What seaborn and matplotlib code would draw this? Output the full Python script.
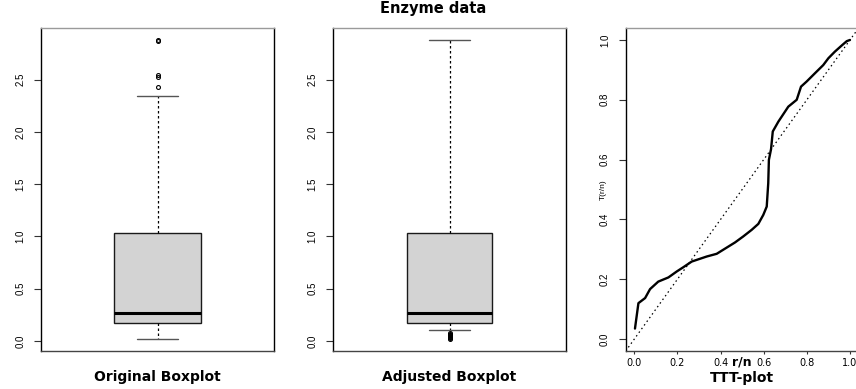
import matplotlib
matplotlib.use("Agg")
import matplotlib.pyplot as plt
import seaborn as sns
import pandas as pd

# ---- data ----
box_titles = ["Original Boxplot", "Adjusted Boxplot"]
box_q1 = [0.17, 0.17]
box_median = [0.265, 0.265]
box_q3 = [1.035, 1.035]
whisker_low = [0.02, 0.105]
whisker_high = [2.34, 2.88]
orig_outliers = [2.43, 2.53, 2.55, 2.87, 2.88]
adj_outliers = [0.02, 0.03, 0.035, 0.04, 0.05, 0.055, 0.06, 0.07, 0.08]
box_yticks = [0.0, 0.5, 1.0, 1.5, 2.0, 2.5]
box_yticklabels = ["0.0", "0.5", "1.0", "1.5", "2.0", "2.5"]

ttt_x = [0.003, 0.019, 0.05, 0.073, 0.111, 0.158, 0.197, 0.227, 0.266, 0.336,
         0.382, 0.42, 0.467, 0.505, 0.544, 0.575, 0.598, 0.614, 0.621, 0.624,
         0.634, 0.642, 0.668, 0.714, 0.753, 0.773, 0.799, 0.838, 0.876, 0.90,
         0.93, 0.961, 0.985, 1.0]
ttt_y = [0.035, 0.120, 0.137, 0.167, 0.192, 0.206, 0.226, 0.240, 0.259, 0.276,
         0.285, 0.302, 0.323, 0.343, 0.365, 0.385, 0.415, 0.443, 0.521, 0.599,
         0.635, 0.694, 0.727, 0.777, 0.800, 0.844, 0.861, 0.889, 0.916, 0.939,
         0.961, 0.981, 0.996, 1.0]
ttt_ticks = [0.0, 0.2, 0.4, 0.6, 0.8, 1.0]
ttt_ticklabels = ["0.0", "0.2", "0.4", "0.6", "0.8", "1.0"]

title = "Enzyme data"

# ---- style ----
sns.set_style("white")
plt.rcParams["font.family"] = ["DejaVu Sans"]
plt.rcParams["text.color"] = "black"
plt.rcParams["axes.labelcolor"] = "black"
plt.rcParams["xtick.color"] = "black"
plt.rcParams["ytick.color"] = "black"

W, H = 856, 389
fig = plt.figure(figsize=(W / 100, H / 100), dpi=100)

def rect(left, right, top=28, bottom=351):
    return [left / W, (H - bottom) / H, (right - left) / W, (bottom - top) / H]

ax1 = fig.add_axes(rect(41, 274))
ax2 = fig.add_axes(rect(333.3, 565.7))
ax3 = fig.add_axes(rect(625.7, 858.6))

def style_spines(ax):
    for side, c in [("left", "black"), ("right", "black"), ("top", "#9a9a9a"), ("bottom", "#444444")]:
        ax.spines[side].set_visible(True)
        ax.spines[side].set_color(c)
        ax.spines[side].set_linewidth(1.0)

outliers = [orig_outliers, adj_outliers]
for i, ax in enumerate([ax1, ax2]):
    stats = [dict(whislo=whisker_low[i], q1=box_q1[i], med=box_median[i],
                  q3=box_q3[i], whishi=whisker_high[i], fliers=outliers[i])]
    ax.bxp(stats, positions=[1], widths=0.37, capwidths=0.18, patch_artist=True,
           boxprops=dict(facecolor="#d3d3d3", edgecolor="#1a1a1a", linewidth=1.0),
           medianprops=dict(color="black", linewidth=2.2),
           whiskerprops=dict(color="black", linewidth=0.9, linestyle=(0, (2, 2))),
           capprops=dict(color="#555555", linewidth=1.0),
           flierprops=dict(marker="o", markersize=2.8, markerfacecolor="none",
                           markeredgecolor="black", markeredgewidth=0.8))
    ax.set_xlim(0.5, 1.5)
    ax.set_ylim(-0.0957, 2.995)
    ax.set_xticks([])
    ax.set_yticks(box_yticks)
    ax.set_yticklabels(box_yticklabels, rotation=90, va="center",
                       family="Liberation Sans", fontsize=7)
    ax.tick_params(axis="y", left=True, length=5.4, width=0.8, pad=6.0, color="#333333")
    style_spines(ax)
    fig.text((41 + 116.3 + (292.3 * i)) / W, 1 - 377 / H, box_titles[i],
             ha="center", va="center", fontsize=10, fontweight="bold")

# TTT plot
df = pd.DataFrame({"r/n": ttt_x, "T(r/n)": ttt_y})
sns.lineplot(data=df, x="r/n", y="T(r/n)", ax=ax3, color="black", linewidth=1.7,
             sort=False, estimator=None)
ax3.axline((0, 0), (1, 1), color="black", linewidth=0.9, linestyle=(0, (1.2, 2.4)))
ax3.set_xlim(-0.04, 1.04)
ax3.set_ylim(-0.04, 1.04)
ax3.set_xlabel("")
ax3.set_ylabel("")
ax3.set_xticks(ttt_ticks)
ax3.set_xticklabels(ttt_ticklabels, fontsize=7)
ax3.set_yticks(ttt_ticks)
ax3.set_yticklabels(ttt_ticklabels, rotation=90, va="center",
                    family="Liberation Sans", fontsize=7)
ax3.tick_params(axis="y", left=True, length=5.4, width=0.8, pad=6.0, color="#333333")
ax3.tick_params(axis="x", bottom=True, length=2.4, width=0.8, pad=3, color="#333333")
style_spines(ax3)
ax3.text(0.5, -0.034, "r/n", transform=ax3.get_xaxis_transform(),
         ha="center", va="center", fontsize=9, fontweight="bold")
ax3.text(-0.0975, 0.5, "T(r/n)", transform=ax3.get_yaxis_transform(),
         ha="center", va="center", rotation=90, family="Liberation Sans", fontsize=6)
fig.text(741.5 / W, 1 - 378 / H, "TTT-plot", ha="center", va="center",
         fontsize=10, fontweight="bold")

fig.text(433 / W, 1 - 8 / H, title, ha="center", va="center",
         fontsize=10.5, fontweight="bold")

fig.savefig("out.png", dpi=100)
